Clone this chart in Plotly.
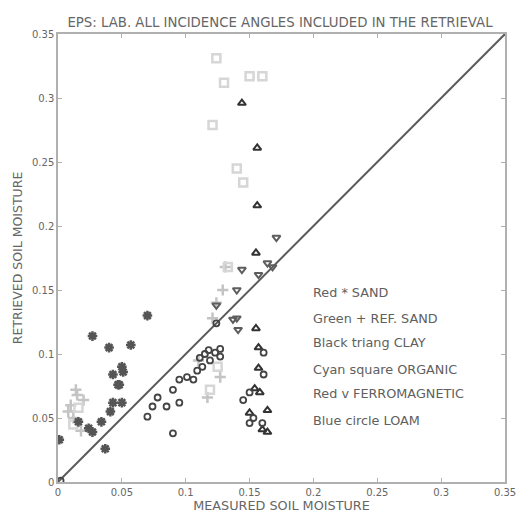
import plotly.graph_objects as go

# ---- data ----
sand_x = [0.001, 0.016, 0.024, 0.027, 0.034, 0.037, 0.041, 0.043, 0.050, 0.047, 0.043, 0.051,
          0.070, 0.027, 0.040, 0.057, 0.050, 0.048]
sand_y = [0.033, 0.047, 0.042, 0.039, 0.047, 0.026, 0.055, 0.062, 0.062, 0.076, 0.084, 0.086,
          0.130, 0.114, 0.105, 0.107, 0.090, 0.076]

refsand_x = [0.010, 0.015, 0.012, 0.018, 0.014, 0.008, 0.020, 0.117, 0.127, 0.121, 0.124, 0.129, 0.110, 0.131]
refsand_y = [0.060, 0.068, 0.050, 0.040, 0.072, 0.055, 0.064, 0.066, 0.082, 0.128, 0.140, 0.150, 0.095, 0.168]

clay_x = [0.144, 0.156, 0.156, 0.155, 0.155, 0.157, 0.157, 0.154, 0.158, 0.150, 0.164, 0.160, 0.164]
clay_y = [0.296, 0.261, 0.216, 0.179, 0.120, 0.105, 0.089, 0.073, 0.070, 0.054, 0.056, 0.041, 0.039]

organic_x = [0.124, 0.150, 0.160, 0.130, 0.121, 0.140, 0.145, 0.133, 0.012, 0.016, 0.119, 0.125]
organic_y = [0.331, 0.317, 0.317, 0.312, 0.279, 0.245, 0.234, 0.168, 0.045, 0.058, 0.072, 0.090]

ferro_x = [0.171, 0.164, 0.168, 0.144, 0.157, 0.140, 0.124, 0.137, 0.140, 0.141]
ferro_y = [0.191, 0.171, 0.168, 0.166, 0.162, 0.150, 0.138, 0.127, 0.128, 0.119]

loam_x = [0.002, 0.090, 0.070, 0.074, 0.078, 0.085, 0.090, 0.095, 0.095, 0.101, 0.106, 0.109, 0.113,
          0.111, 0.115, 0.119, 0.123, 0.127, 0.118, 0.124, 0.127,
          0.161, 0.161, 0.145, 0.150, 0.153, 0.150, 0.160]
loam_y = [0.001, 0.038, 0.051, 0.059, 0.066, 0.059, 0.072, 0.062, 0.080, 0.082, 0.080, 0.087, 0.090,
          0.097, 0.100, 0.095, 0.101, 0.098, 0.103, 0.124, 0.104,
          0.101, 0.084, 0.064, 0.070, 0.050, 0.046, 0.046]

legend_lines = ["Red * SAND", "Green + REF. SAND", "Black triang CLAY",
                "Cyan square ORGANIC", "Red v FERROMAGNETIC", "Blue circle LOAM"]
legend_y = [0.148, 0.128, 0.109, 0.088, 0.069, 0.048]

ticks = [0, 0.05, 0.1, 0.15, 0.2, 0.25, 0.3, 0.35]
tick_text = ["0", "0.05", "0.1", "0.15", "0.2", "0.25", "0.3", "0.35"]

title = "EPS: LAB. ALL INCIDENCE ANGLES INCLUDED IN THE RETRIEVAL"
xlabel = "MEASURED SOIL MOISTURE"
ylabel = "RETRIEVED SOIL MOISTURE"

FONT = "DejaVu Sans"

# ---- figure ----
fig = go.Figure()

fig.add_trace(go.Scatter(x=[0, 0.35], y=[0, 0.35], mode="lines",
                         line=dict(color="#5a5a5a", width=2), hoverinfo="skip"))

def add(xs, ys, sym, col, size=7, w=1.8):
    fig.add_trace(go.Scatter(x=xs, y=ys, mode="markers",
                             marker=dict(symbol=sym, size=size, color=col,
                                         line=dict(color=col, width=w))))

add(refsand_x, refsand_y, "cross-thin-open", "#c4c4c4", 8, 2.5)
add(organic_x, organic_y, "square-open", "#d6d6d6", 8, 2.5)
add(sand_x, sand_y, "asterisk-open", "#555555", 8, 2.5)
add(ferro_x, ferro_y, "triangle-down-open", "#5e5e5e", 7, 2)
add(clay_x, clay_y, "triangle-up-open", "#333333", 7, 2)
add(loam_x, loam_y, "circle-open", "#444444", 6, 1.8)

for t, yy in zip(legend_lines, legend_y):
    fig.add_annotation(x=0.2, y=yy, text=t, showarrow=False, xanchor="left", yanchor="middle",
                       xshift=-2, font=dict(size=12.8, color="#606060", family=FONT))

axis_common = dict(range=[0, 0.35], tickvals=ticks, ticktext=tick_text, showgrid=False,
                   zeroline=False, showline=True, mirror="ticks", linecolor="#b0b0b0", linewidth=1.5,
                   ticks="inside", ticklen=4, tickcolor="#b0b0b0", automargin=False,
                   tickfont=dict(size=10, color="#666666", family=FONT))

fig.update_layout(
    width=519, height=516,
    margin=dict(l=58, r=14, t=34, b=34, autoexpand=False),
    paper_bgcolor="white", plot_bgcolor="white",
    showlegend=False,
    title=dict(text=title, x=280 / 519, xanchor="center", y=1 - 22 / 516, yanchor="middle",
               automargin=False,
               font=dict(size=13.3, color="#666666", family=FONT)),
    xaxis=dict(**axis_common,
               title=dict(text=xlabel, standoff=0,
                          font=dict(size=12.8, color="#666666", family=FONT))),
    yaxis=dict(**axis_common,
               title=dict(text=ylabel, standoff=7,
                          font=dict(size=12.5, color="#666666", family=FONT))),
)

fig.write_html("out.html", config={"displayModeBar": False},
               post_script="document.body.style.margin='0';document.body.style.overflow='hidden';")
